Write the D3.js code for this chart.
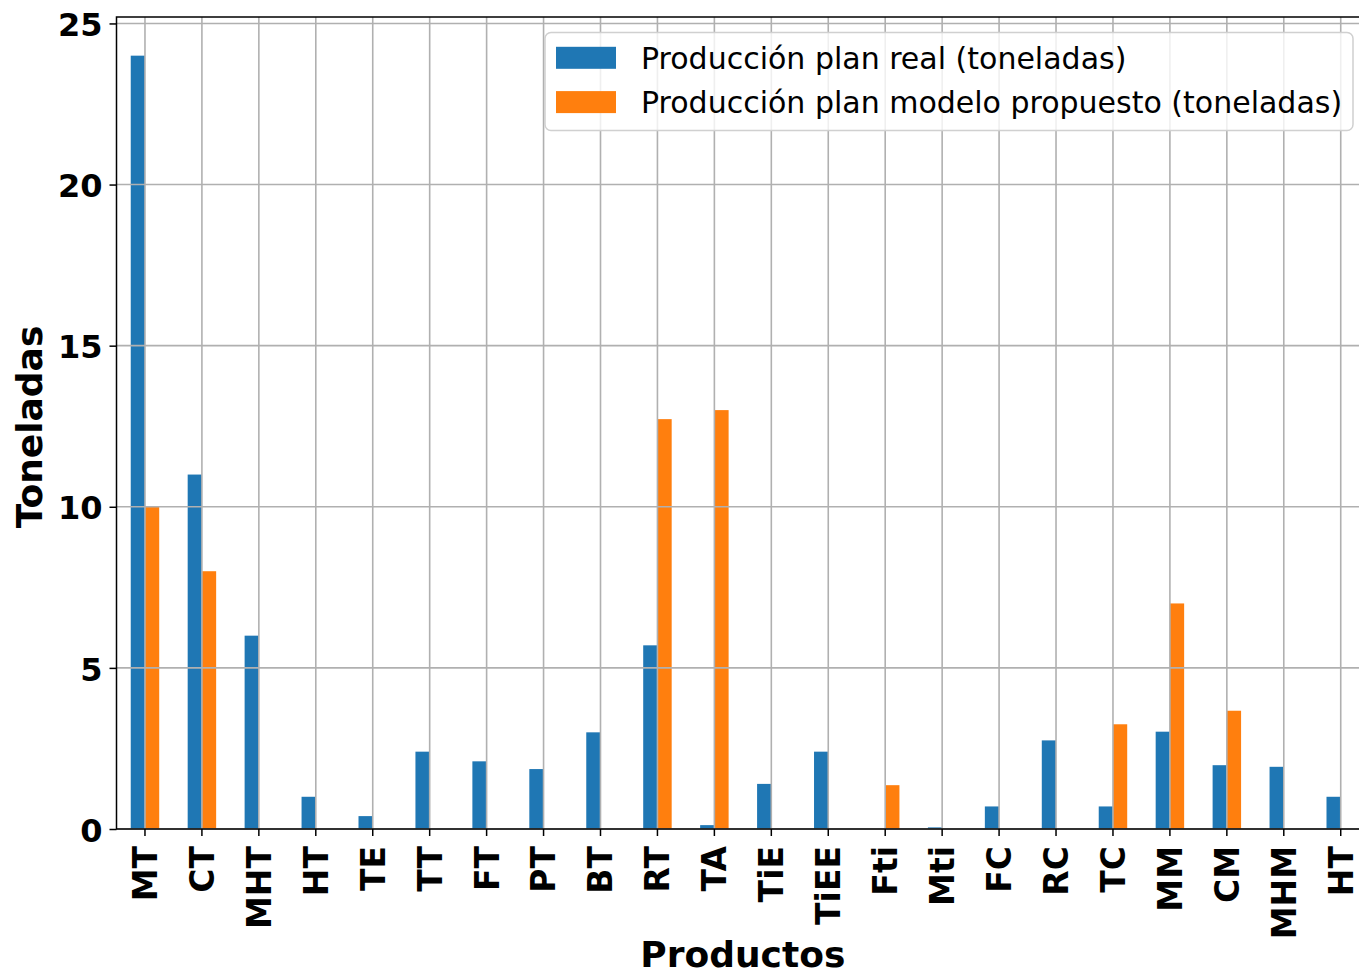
<!doctype html>
<html lang="es">
<head>
  <meta charset="utf-8">
  <style>
    body { margin: 0; background: #fff; }
    svg { display: block; }
    .tick text { font-family: "DejaVu Sans", sans-serif; font-weight: bold; }
    .axis-label { font: bold 36px "DejaVu Sans", sans-serif; }
    .legend-text { font: 30px "DejaVu Sans", sans-serif; }
  </style>
  <script src="https://d3js.org/d3.v7.min.js"></script>
</head>
<body>
<script>
  const categories = ["MT", "CT", "MHT", "HT", "TE", "TT", "FT", "PT", "BT", "RT", "TA",
                      "TiE", "TiEE", "Fti", "Mti", "FC", "RC", "TC", "MM", "CM", "MHM", "HT"];
  const realValues = [24, 11, 6, 1.0, 0.4, 2.4, 2.1, 1.86, 3.0, 5.7, 0.12,
                      1.4, 2.4, 0, 0.05, 0.7, 2.75, 0.7, 3.02, 1.98, 1.93, 1.0];
  const modelValues = [10, 8, 0, 0, 0, 0, 0, 0, 0, 12.72, 13.0,
                       0, 0, 1.36, 0, 0, 0, 3.25, 7.0, 3.67, 0, 0];
  const seriesNames = ["Producción plan real (toneladas)",
                       "Producción plan modelo propuesto (toneladas)"];
  const colors = ["#1f77b4", "#ff7f0e"];
  const yTicks = [0, 5, 10, 15, 20, 25];

  const W = 1359, H = 974;
  const plotLeft = 116.5, plotRight = 1369.2, plotTop = 17, plotBottom = 829;

  const svg = d3.select("body").append("svg")
      .attr("width", W)
      .attr("height", H);

  const x = d3.scaleBand()
      .domain(d3.range(categories.length))
      .range([plotLeft, plotRight])
      .padding(0);
  const bw = x.bandwidth();
  const cx = i => x(i) + bw / 2;

  const y = d3.scaleLinear()
      .domain([0, 25.2])
      .range([plotBottom, plotTop]);

  // bars
  const barW = bw * 0.25;
  svg.append("g").selectAll("rect")
      .data(realValues)
      .join("rect")
      .attr("x", (d, i) => cx(i) - barW)
      .attr("y", d => y(d))
      .attr("width", barW)
      .attr("height", d => plotBottom - y(d))
      .attr("fill", colors[0]);

  svg.append("g").selectAll("rect")
      .data(modelValues)
      .join("rect")
      .attr("x", (d, i) => cx(i))
      .attr("y", d => y(d))
      .attr("width", barW)
      .attr("height", d => plotBottom - y(d))
      .attr("fill", colors[1]);

  // grid (drawn above bars like matplotlib)
  const grid = svg.append("g")
      .attr("stroke", "#b0b0b0")
      .attr("stroke-width", 1.6);
  grid.selectAll(".gx")
      .data(d3.range(categories.length))
      .join("line")
      .attr("x1", i => cx(i)).attr("x2", i => cx(i))
      .attr("y1", plotTop).attr("y2", plotBottom);
  grid.selectAll(".gy")
      .data(yTicks)
      .join("line")
      .attr("x1", plotLeft).attr("x2", plotRight)
      .attr("y1", d => y(d)).attr("y2", d => y(d));

  // axes
  const xAxis = svg.append("g")
      .attr("transform", `translate(0,${plotBottom})`)
      .call(d3.axisBottom(x)
        .tickFormat(i => categories[i])
        .tickSize(7)
        .tickPadding(7)
        .tickSizeOuter(0));
  xAxis.selectAll("text")
      .attr("font-size", 33)
      .attr("fill", "#000")
      .attr("transform", "rotate(-90)")
      .attr("text-anchor", "end")
      .attr("x", -17)
      .attr("y", 0)
      .attr("dy", "0.36em");
  xAxis.select(".domain").remove();

  const yAxis = svg.append("g")
      .attr("transform", `translate(${plotLeft},0)`)
      .call(d3.axisLeft(y)
        .tickValues(yTicks)
        .tickSize(7)
        .tickPadding(7)
        .tickSizeOuter(0));
  yAxis.selectAll("text")
      .attr("font-size", 32)
      .attr("fill", "#000")
      .attr("dy", "0.38em");
  yAxis.select(".domain").remove();
  svg.selectAll(".tick line").attr("stroke", "#000").attr("stroke-width", 1.5);

  // spines
  svg.append("rect")
      .attr("x", plotLeft).attr("y", plotTop)
      .attr("width", plotRight - plotLeft).attr("height", plotBottom - plotTop)
      .attr("fill", "none")
      .attr("stroke", "#000")
      .attr("stroke-width", 1.5);

  // legend
  const lg = svg.append("g");
  lg.append("rect")
      .attr("x", 545).attr("y", 32.5)
      .attr("width", 808).attr("height", 98)
      .attr("rx", 6)
      .attr("fill", "#fff").attr("fill-opacity", 0.8)
      .attr("stroke", "#d0d0d0").attr("stroke-width", 1.5);
  seriesNames.forEach((name, i) => {
    const cy = 57.8 + i * 44.3;
    lg.append("rect")
        .attr("x", 556).attr("y", cy - 11)
        .attr("width", 60).attr("height", 22)
        .attr("fill", colors[i]);
    lg.append("text")
        .attr("class", "legend-text")
        .attr("x", 641).attr("y", cy)
        .attr("dy", "0.36em")
        .attr("fill", "#000")
        .text(name);
  });

  // axis labels
  svg.append("text")
      .attr("class", "axis-label")
      .attr("x", (plotLeft + plotRight) / 2)
      .attr("y", 967)
      .attr("text-anchor", "middle")
      .text("Productos");

  svg.append("text")
      .attr("class", "axis-label")
      .attr("transform", `translate(42,427) rotate(-90)`)
      .attr("text-anchor", "middle")
      .text("Toneladas");
</script>
</body>
</html>
